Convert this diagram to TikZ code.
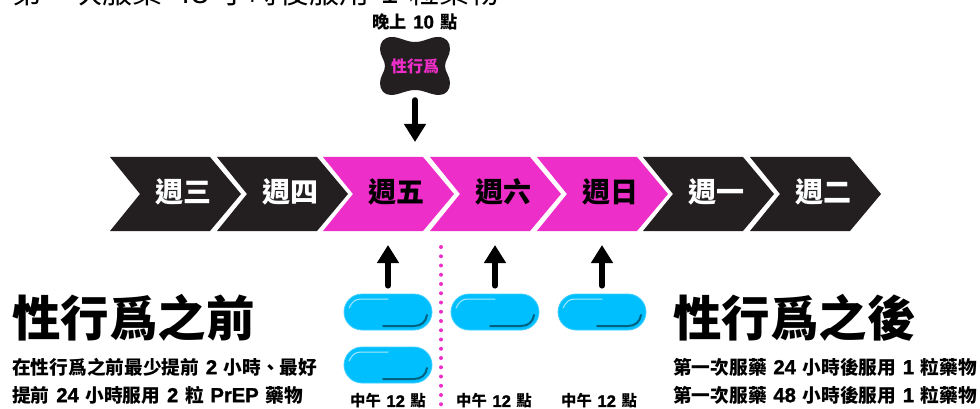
\documentclass[tikz,border=0pt]{standalone}
\usepackage{fontspec}
\setmainfont{Noto Sans CJK TC}
\newfontfamily\heavyfont{Noto Sans CJK TC Black}
\newfontfamily\latinfont{Liberation Sans}[BoldFeatures={FakeBold=1.6}, Scale=1.08]
\newcommand\latn[1]{\hspace{.36em}{\latinfont #1}\hspace{.36em}}
\usetikzlibrary{arrows.meta, shapes.misc}
\definecolor{inkblack}{HTML}{231F20}
\definecolor{hotpink}{HTML}{EE2EC8}
\definecolor{pillblue}{HTML}{00BFFF}
\tikzset{
  bigarrow/.style={line width=6pt, line cap=round, -{Triangle[width=21pt,length=18pt]}},
  pill/.style={rounded rectangle, minimum width=88pt, minimum height=36pt, inner sep=0pt,
    fill=pillblue, draw=pillblue!75!white, line width=0.8pt,
    path picture={
      \begin{scope}[shift={(path picture bounding box.center)}]
        \draw[pillblue!35!white, line width=1pt, line cap=round] (-39,-4) .. controls (-36,-10) and (-33,-13) .. (-27,-13) -- (0,-13);
        \draw[pillblue!50!black, line width=2pt, line cap=round] (-5,14) -- (26,14) .. controls (33,14) and (38,10) .. (39,3);
      \end{scope}
    }},
  daylabel/.style={font=\heavyfont\fontsize{28}{30}\selectfont},
  noon/.style={font=\bfseries\fontsize{15.4}{17}\selectfont},
  bigtitle/.style={font=\heavyfont\fontsize{48.5}{51}\selectfont, anchor=west, inner sep=0pt},
  bodytext/.style={font=\bfseries\fontsize{18.7}{20}\selectfont, anchor=west, inner sep=0pt}
}

\begin{document}
\begin{tikzpicture}[x=1pt, y=-1pt]

\clip (0,0) rectangle (980,409);

% Cut off line at the top
\node[anchor=west, inner sep=0pt, font=\fontsize{30}{32}\selectfont] (topline) at (12,-7.5) {第一次服藥\latn{48}小時後服用\latn{1}粒藥物};

% Draw the row of days
\foreach \x/\col/\txt/\name/\day in {110/inkblack/white/wed/週三, 217/inkblack/white/thu/週四,
    323/hotpink/black/fri/週五, 430/hotpink/black/sat/週六, 537/hotpink/black/sun/週日,
    643/inkblack/white/mon/週一, 750/inkblack/white/tue/週二} {
  \fill[\col] (\x,157) -- ++(100,0) -- ++(31,37) -- ++(-31,37) -- ++(-100,0) -- ++(30,-37) -- cycle;
  \node[daylabel, text=\txt] (\name) at (\x+73,192) {\day};
}

% Label and shape for the night
\node[font=\bfseries\fontsize{17.2}{19}\selectfont] (night) at (415,22) {晚上\latn{10}點};
\fill[inkblack] (392,37) .. controls (400,37) and (406,42) .. (415,42) .. controls (424,42) and (430,37) .. (438,37)
  .. controls (446,37) and (450,42) .. (450,49) .. controls (450,56) and (445,60) .. (445,66)
  .. controls (445,72) and (450,76) .. (450,83) .. controls (450,90) and (446,95) .. (439,95)
  .. controls (431,95) and (424,90) .. (415,90) .. controls (406,90) and (399,95) .. (391,95)
  .. controls (384,95) and (380,90) .. (380,83) .. controls (380,76) and (385,72) .. (385,66)
  .. controls (385,60) and (380,56) .. (380,49) .. controls (380,42) and (384,37) .. (392,37) -- cycle;
\node[text=hotpink, minimum width=70pt, minimum height=58pt, inner sep=0pt, font=\bfseries\fontsize{16}{18}\selectfont] (sex) at (415,66) {性行爲};

% Arrow down
\coordinate (downend) at (415,142);
\draw[bigarrow, shorten <=5pt] (sex.south) -- (downend);

% The pills
\node[pill] (pilla) at (388,312) {};
\node[pill] (pillb) at (388,365) {};
\node[pill] (pillc) at (495,312) {};
\node[pill] (pilld) at (602,312) {};

% Arrows up
\coordinate (upa) at (388,245);
\coordinate (upc) at (495,245);
\coordinate (upd) at (602,245);
\draw[bigarrow, shorten <=8pt] (pilla.north) -- (upa);
\draw[bigarrow, shorten <=8pt] (pillc.north) -- (upc);
\draw[bigarrow, shorten <=8pt] (pilld.north) -- (upd);

% Dotted line
\coordinate (dottop) at (441,247);
\coordinate (dotend) at (441,407);
\draw[hotpink, line width=4pt, line cap=round, dash pattern=on 0pt off 9.25pt] (dottop) -- (dotend);

% Noon labels
\node[noon] (noona) at (388,401) {中午\latn{12}點};
\node[noon] (noonb) at (494,401) {中午\latn{12}點};
\node[noon] (noonc) at (599,401) {中午\latn{12}點};

% Left text
\node[bigtitle] (before) at (12,318) {性行爲之前};
\node[bodytext] (beforea) at (12,367) {在性行爲之前最少提前\latn{2}小時、最好};
\node[bodytext] (beforeb) at (12,395) {提前\latn{24}小時服用\latn{2}粒\latn{PrEP}藥物};

% Right text
\node[bigtitle] (after) at (673,318) {性行爲之後};
\node[bodytext] (aftera) at (673,367) {第一次服藥\latn{24}小時後服用\latn{1}粒藥物};
\node[bodytext] (afterb) at (673,395) {第一次服藥\latn{48}小時後服用\latn{1}粒藥物};

\end{tikzpicture}
\end{document}
